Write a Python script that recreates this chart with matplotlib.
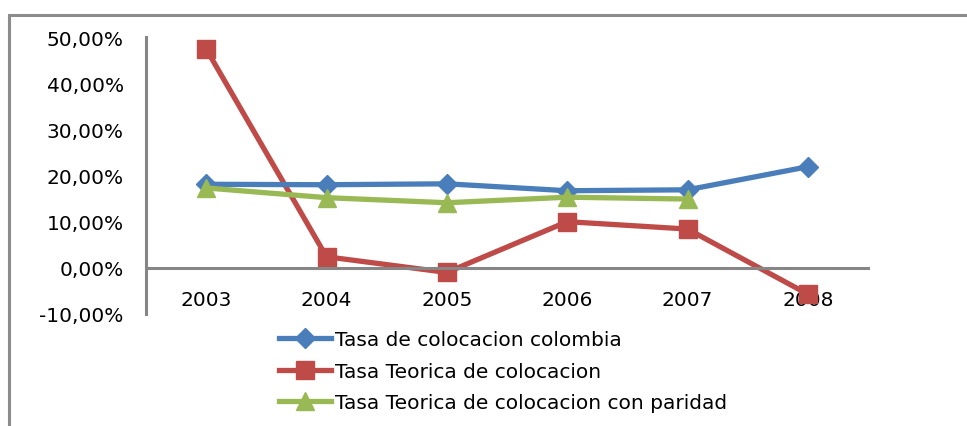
import matplotlib
matplotlib.use("Agg")
import matplotlib.pyplot as plt
from matplotlib.patches import Rectangle
from matplotlib.ticker import FuncFormatter

years = ["2003", "2004", "2005", "2006", "2007", "2008"]
tasa_colombia = [18.1, 18.0, 18.2, 16.7, 16.9, 21.9]
tasa_teorica = [47.4, 2.4, -1.0, 10.0, 8.4, -5.7]
tasa_paridad = [17.3, 15.2, 14.1, 15.3, 14.9]

labels = ["Tasa de colocacion colombia",
          "Tasa Teorica de colocacion",
          "Tasa Teorica de colocacion con paridad"]
colors = ["#4A7EBB", "#BE4B48", "#98B954"]

plt.rcParams['font.family'] = ['DejaVu Sans']

fig = plt.figure(figsize=(9.67, 4.27), dpi=100)
ax = fig.add_axes([146/967, 1-315/427, (868-146)/967, (315-38)/427])

x = list(range(len(years)))
lw = 3.8
ax.plot(x, tasa_colombia, color=colors[0], lw=lw, marker='D', markersize=10.5,
        label=labels[0], solid_joinstyle='round', zorder=3)
ax.plot(x, tasa_teorica, color=colors[1], lw=lw, marker='s', markersize=13.5,
        label=labels[1], solid_joinstyle='round', zorder=2)
ax.plot(x[:len(tasa_paridad)], tasa_paridad, color=colors[2], lw=lw, marker='^',
        markersize=13.5, label=labels[2], solid_joinstyle='round', zorder=4)

ax.set_xlim(-0.5, len(years) - 0.5)
ax.set_ylim(-10, 50)
ax.set_yticks([-10, 0, 10, 20, 30, 40, 50])
ax.yaxis.set_major_formatter(FuncFormatter(lambda v, p: f"{v:.2f}%".replace('.', ',')))
ax.set_xticks(x)
ax.set_xticklabels(years)

for s in ['top', 'right']:
    ax.spines[s].set_visible(False)
ax.spines['bottom'].set_position(('data', 0))
ax.spines['bottom'].set_color('#868686')
ax.spines['left'].set_color('#868686')
ax.spines['bottom'].set_linewidth(2.2)
ax.spines['left'].set_linewidth(2.2)
ax.tick_params(axis='x', length=0, pad=16, labelsize=14.5, colors='black')
ax.tick_params(axis='y', length=0, pad=16, labelsize=14.5, colors='black')

leg = fig.legend(loc='upper left', bbox_to_anchor=(269/967, 1-321/427), frameon=False,
                 fontsize=14.5, handlelength=2.6, labelspacing=0.62, handletextpad=0.2,
                 borderpad=0)

border = Rectangle((9/967, -0.2), 2, (1-16/427) + 0.2, transform=fig.transFigure,
                   fill=False, edgecolor='#8c8c8c', lw=2.2, clip_on=False)
fig.patches.append(border)

fig.savefig("out.png", dpi=100)
